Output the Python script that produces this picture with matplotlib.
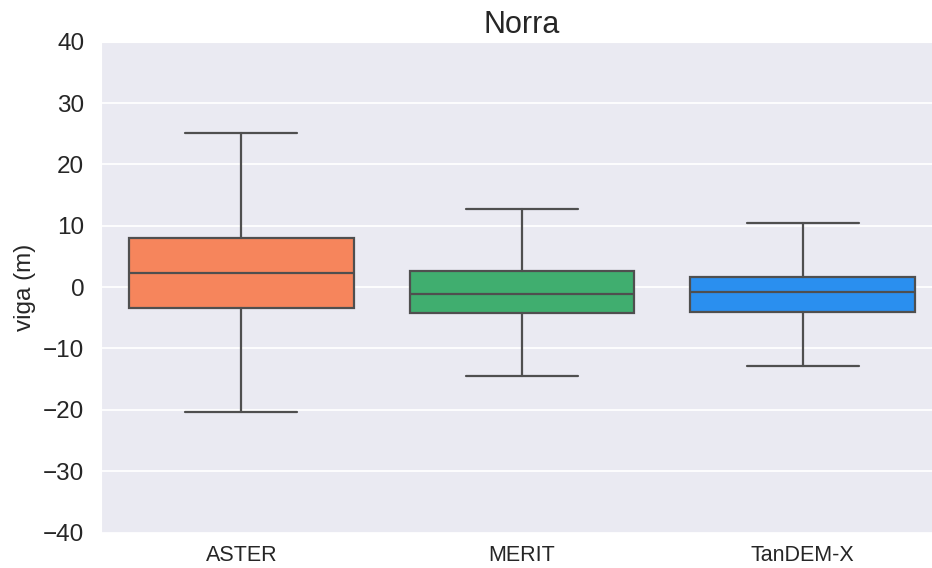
import matplotlib
matplotlib.use("Agg")
import matplotlib.pyplot as plt
import seaborn as sns

sns.set_style("darkgrid")
plt.rcParams["font.family"] = ["Liberation Sans", "DejaVu Sans"]

# Box statistics per DEM (metres)
categories = ["ASTER", "MERIT", "TanDEM-X"]
whisker_low = [-20.4, -14.55, -12.85]
q1 = [-3.35, -4.2, -4.1]
median = [2.35, -1.15, -0.8]
q3 = [8.05, 2.55, 1.7]
whisker_high = [25.05, 12.7, 10.45]
colors = ["#F6855C", "#40AE6F", "#2A8FEF"]
yticks = list(range(-40, 41, 10))

stats = [
    dict(label=c, whislo=lo, q1=a, med=m, q3=b, whishi=hi, fliers=[])
    for c, lo, a, m, b, hi in zip(categories, whisker_low, q1, median, q3, whisker_high)
]

fig = plt.figure(figsize=(9.32, 5.68), dpi=100)
ax = fig.add_axes([0.1084, 0.0625, 0.9034, 0.8641])

line = dict(color="#4f4f4f", linewidth=1.6)
bp = ax.bxp(
    stats, positions=range(len(categories)), widths=0.8, patch_artist=True,
    showfliers=False, boxprops=dict(edgecolor="#4f4f4f", linewidth=1.6),
    medianprops=line, whiskerprops=line, capprops=line,
)
for patch, c in zip(bp["boxes"], colors):
    patch.set_facecolor(c)

ax.set_xlim(-0.5, len(categories) - 0.5)
ax.set_ylim(-40, 40)
ax.set_yticks(yticks)
ax.set_xticks(range(len(categories)))
ax.set_xticklabels(categories)
ax.tick_params(axis="y", labelsize=17.5, pad=12, length=0, colors="#262626")
ax.tick_params(axis="x", labelsize=15.5, pad=9, length=0, colors="#262626")
ax.grid(True, axis="y", color="white", linewidth=1.3)
ax.grid(False, axis="x")
ax.set_ylabel("viga (m)", fontsize=17.5, color="#262626", labelpad=5)
ax.set_title("Norra", fontsize=22, color="#262626", pad=6)

fig.savefig("out.png", dpi=100)
